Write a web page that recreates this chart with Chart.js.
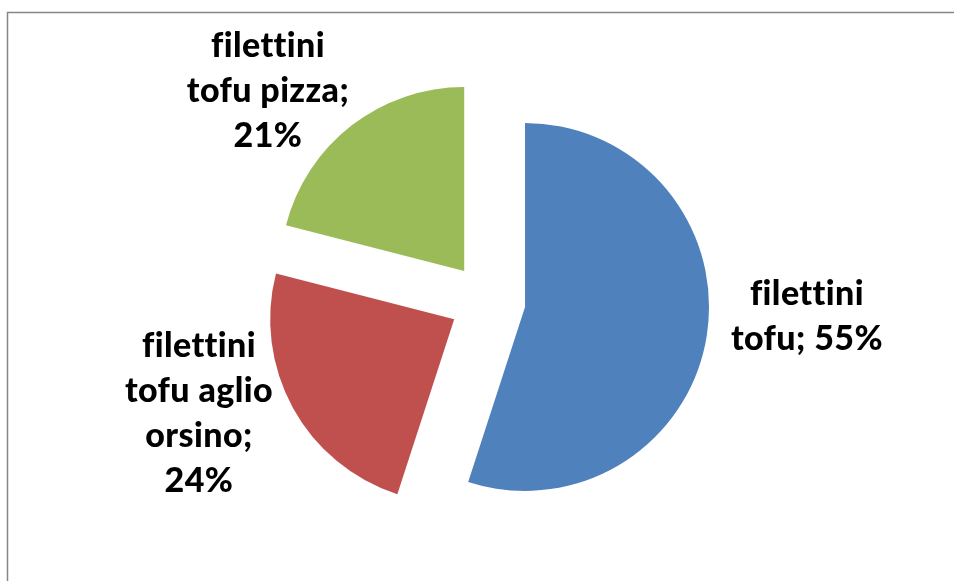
<!DOCTYPE html>
<html>
<head>
<meta charset="utf-8">
<script src="https://cdn.jsdelivr.net/npm/chart.js@4"></script>
<style>
  html, body { margin: 0; padding: 0; background: #fff; }
  #wrap { width: 954px; height: 581px; position: relative; }
</style>
</head>
<body>
<div id="wrap"><canvas id="myChart"></canvas></div>
<script>
const categories = ['filettini tofu', 'filettini tofu aglio orsino', 'filettini tofu pizza'];
const shares = [55, 24, 21];
const sliceColors = ['#4F81BD', '#C0504D', '#9BBB59'];

// where each label block sits, in units of the pie radius from the pie centre
const labelSpots = [[1.736, 0.082], [-1.568, 0.609], [-1.193, -1.141]];
const labelFont = '900 34px Lato';
const lineGap = 45;
const wrapWidth = 172;
const pieRadius = 184;

function wrapText(ctx, text, maxW) {
    const words = text.split(' ');
    const lines = [];
    let cur = '';
    words.forEach(w => {
        const test = cur ? cur + ' ' + w : w;
        if (cur && ctx.measureText(test).width > maxW) {
            lines.push(cur);
            cur = w;
        } else {
            cur = test;
        }
    });
    if (cur) lines.push(cur);
    return lines;
}

const frame = {
    id: 'frame',
    beforeDraw(chart) {
        const ctx = chart.ctx;
        ctx.save();
        ctx.fillStyle = '#fff';
        ctx.fillRect(0, 0, chart.width, chart.height);
        ctx.strokeStyle = '#868686';
        ctx.lineWidth = 1.5;
        ctx.strokeRect(7.5, 12.5, chart.width + 20, chart.height + 20);
        ctx.restore();
    }
};

// Chart.js v4 inflates (and narrows) an exploded arc wider than 180deg.
// Excel just slides the slice out, so hide the real sweep while drawing.
const plainExplode = {
    id: 'plainExplode',
    beforeDatasetsDraw(chart) {
        chart.getDatasetMeta(0).data.forEach(arc => {
            arc.realCirc = arc.circumference;
            arc.circumference = Math.PI / 2;
        });
    },
    afterDatasetsDraw(chart) {
        chart.getDatasetMeta(0).data.forEach(arc => {
            arc.circumference = arc.realCirc;
        });
    }
};

const sliceLabels = {
    id: 'sliceLabels',
    afterDatasetsDraw(chart) {
        const ctx = chart.ctx;
        const meta = chart.getDatasetMeta(0);
        ctx.save();
        ctx.font = labelFont;
        ctx.letterSpacing = '0.4px'; // keeps the fi / tt ligatures apart
        ctx.fillStyle = '#000';
        ctx.textAlign = 'center';
        ctx.textBaseline = 'middle';
        meta.data.forEach((arc, i) => {
            const cx = arc.x + labelSpots[i][0] * pieRadius;
            const cy = arc.y + labelSpots[i][1] * pieRadius;
            const text = categories[i] + '; ' + shares[i] + '%';
            const lines = wrapText(ctx, text, wrapWidth);
            const top = cy - (lines.length - 1) * lineGap / 2;
            lines.forEach((ln, k) => ctx.fillText(ln, cx, top + k * lineGap));
        });
        ctx.restore();
    }
};

const ctx = document.getElementById('myChart').getContext('2d');
const myChart = new Chart(ctx, {
    type: 'pie',
    data: {
        labels: categories,
        datasets: [{
            data: shares,
            backgroundColor: sliceColors,
            borderWidth: 0,
            offset: 152, // Chart.js draws offset/4 -> 38px
            hoverOffset: 0
        }]
    },
    options: {
        responsive: true,
        maintainAspectRatio: false,
        animation: false,
        radius: pieRadius,
        layout: { padding: { left: 40, right: 19, top: 30, bottom: 9 } },
        plugins: {
            legend: { display: false },
            tooltip: { enabled: false }
        }
    },
    plugins: [frame, plainExplode, sliceLabels]
});
</script>
</body>
</html>
